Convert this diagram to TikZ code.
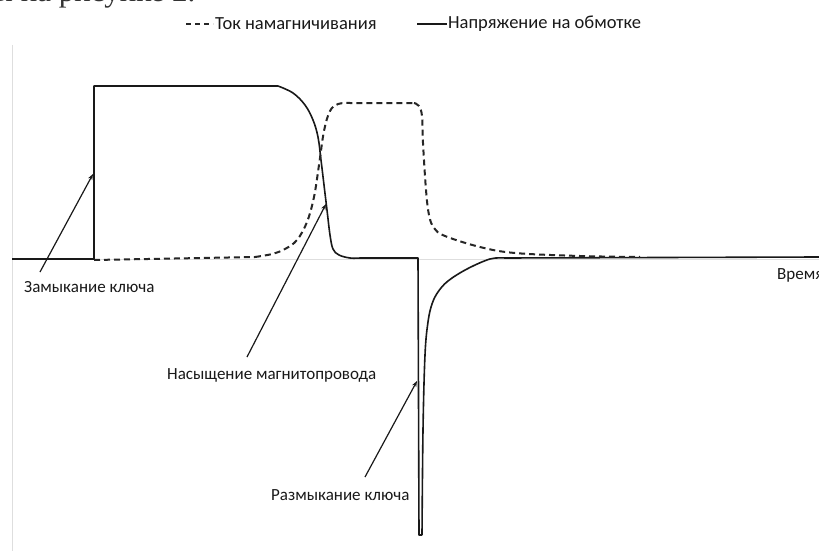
\documentclass[tikz,border=0pt]{standalone}
\usepackage{fontspec}
\setmainfont{Carlito}
\newfontfamily\seriffont{Liberation Serif}
\usetikzlibrary{arrows.meta}
\tikzset{
  axisline/.style={draw=black!13, line width=0.8pt},
  voltage/.style={draw=black!90, line width=1.6pt, line join=round},
  current/.style={draw=black!85, line width=2pt, dash pattern=on 6pt off 4pt, line join=round},
  pointer/.style={draw=black!90, line width=1.2pt, -{Stealth[length=6pt,width=4.5pt]}},
  lbl/.style={font=\fontsize{17}{19}\selectfont, text=black!90, inner sep=0pt},
  leg/.style={font=\fontsize{18.5}{21}\selectfont, text=black!90, inner sep=0pt, anchor=west}
}
\begin{document}
\begin{tikzpicture}[x=1pt,y=-1pt]
\useasboundingbox (0,0) rectangle (819,551);
\clip (0,0) rectangle (819,551);
\fill[white] (0,0) rectangle (819,551);
% cut-off document text
\node[anchor=base west, inner sep=0pt, font=\seriffont\fontsize{31}{34}\selectfont, text=black!80] (doc) at (-8,2) {ы на рисунке 2.};
% axes
\draw[axisline] (12,45) -- (12,551);
\draw[axisline] (12,259) -- (819,259);
% legend
\coordinate (ld1) at (186,24);
\coordinate (ld2) at (213,24);
\draw[draw=black!85, line width=1.4pt, dash pattern=on 5pt off 4pt] (ld1) -- (ld2);
\node[leg] (legI) at (215,24) {Ток намагничивания};
\coordinate (ls1) at (417,24);
\coordinate (ls2) at (447,24);
\draw[draw=black!90, line width=1.4pt] (ls1) -- (ls2);
\node[leg] (legU) at (448,24) {Напряжение на обмотке};
% voltage curve
\draw[voltage] (12,259) -- (94,259) -- (94,86) -- (278,86)
  plot[smooth, tension=0.6] coordinates {(278,86) (293,93) (305,105) (313,120) (318,137) (321,160) (324,185) (327,210) (330,235) (333,249) (339,255) (350,258) (360,258)}
  -- (418,258) -- (419,535) -- (422,535)
  plot[smooth, tension=0.6] coordinates {(422,535) (423,430) (425,355) (428,322) (432,304) (438,292) (448,281) (467,269) (490,259) (505,258)}
  -- (819,257);
% current curve
\draw[current] (94,260) -- (255,257)
  plot[smooth, tension=0.6] coordinates {(255,257) (272,254) (285,249) (297,240) (307,222) (314,197) (319,165) (324,131) (330,111) (338,104) (350,103)}
  -- (414,103)
  plot[smooth, tension=0.6] coordinates {(414,103) (419,106) (422,116) (423,143) (426,190) (429,215) (434,228) (445,236) (480,247) (515,253) (580,256) (640,257)};
% labels
\node[lbl, anchor=west] (zam) at (24,287) {Замыкание ключа};
\node[lbl, anchor=west] (nas) at (167,375) {Насыщение магнитопровода};
\node[lbl, anchor=west] (raz) at (271,495) {Размыкание ключа};
\node[lbl, anchor=west] (time) at (777,275) {Время};
% arrow tips
\coordinate (tz) at (93,174);
\coordinate (tn) at (326,204);
\coordinate (tr) at (417,381);
\draw[pointer] (40,272) -- (tz);
\draw[pointer] (247,357) -- (tn);
\draw[pointer] (365,477) -- (tr);
\end{tikzpicture}
\end{document}
